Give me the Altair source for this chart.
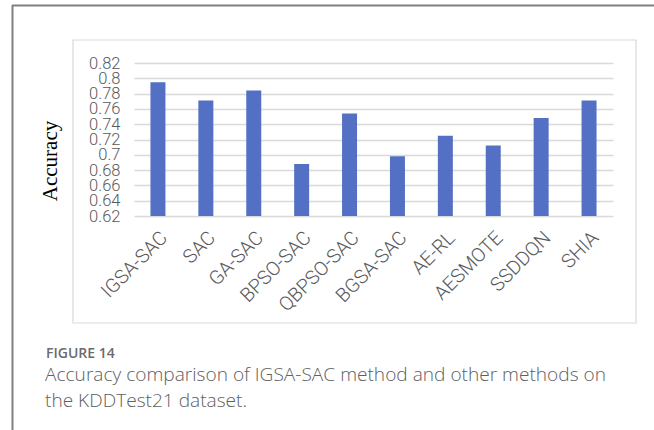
import altair as alt
import pandas as pd

# Accuracy on KDDTest21 for each method
methods = ["IGSA-SAC", "SAC", "GA-SAC", "BPSO-SAC", "QBPSO-SAC",
           "BGSA-SAC", "AE-RL", "AESMOTE", "SSDDQN", "SHIA"]
accuracy = [0.795, 0.771, 0.784, 0.688, 0.754, 0.698, 0.725, 0.712, 0.748, 0.771]
y_ticks = [0.62, 0.64, 0.66, 0.68, 0.70, 0.72, 0.74, 0.76, 0.78, 0.80, 0.82]

fig_label = "FIGURE 14"
caption_lines = [
    "Accuracy comparison of IGSA-SAC method and other methods on",
    "the KDDTest21 dataset.",
]

df = pd.DataFrame({"method": methods, "accuracy": accuracy})
one = pd.DataFrame({"k": [0]})

W, H = 479, 153
PAD_L, PAD_T = 134, 63

bars = alt.Chart(df).mark_bar(size=15, color="#5470C4", clip=True).encode(
    x=alt.X("method:N", sort=methods, title=None,
            axis=alt.Axis(labelAngle=-45, labelPadding=12, ticks=False,
                          domain=False, labelFont="Roboto", labelFontWeight=300,
                          labelFontSize=19.5, labelColor="#595959",
                          labelOverlap=False)),
    y=alt.Y("accuracy:Q", title=None,
            scale=alt.Scale(domain=[0.62, 0.82], nice=False, zero=False),
            axis=alt.Axis(values=y_ticks, format=".2~f", ticks=False, domain=False,
                          grid=True, gridColor="#d9d9d9", gridWidth=1.5,
                          labelFont="Roboto", labelFontWeight=300, labelFontSize=16.5,
                          labelColor="#595959", labelPadding=14,
                          labelOverlap=False, labelBound=False)),
)

# outer page frame (left and top edges)
frame_left = alt.Chart(one).mark_rule(color="#808080", strokeWidth=2).encode(
    x=alt.value(12.5 - PAD_L), y=alt.value(5 - PAD_T), y2=alt.value(430 - PAD_T))
frame_top = alt.Chart(one).mark_rule(color="#808080", strokeWidth=2).encode(
    x=alt.value(12 - PAD_L), x2=alt.value(654 - PAD_L), y=alt.value(5.5 - PAD_T))

# light box around the chart
box = alt.Chart(one).mark_rect(fill=None, stroke="#d9d9d9", strokeWidth=1.2).encode(
    x=alt.value(73 - PAD_L), x2=alt.value(636 - PAD_L),
    y=alt.value(40 - PAD_T), y2=alt.value(323 - PAD_T))

y_title = alt.Chart(one).mark_text(
    text="Accuracy", font="Liberation Serif", fontSize=21, color="#000000",
    angle=270, align="center", baseline="middle").encode(
    x=alt.value(51 - PAD_L), y=alt.value(161 - PAD_T))

fig_text = alt.Chart(one).mark_text(
    text=fig_label, font="Open Sans", fontWeight=600, fontSize=14, color="#6b6b6b",
    align="left", baseline="alphabetic").encode(
    x=alt.value(46 - PAD_L), y=alt.value(357.5 - PAD_T))

cap1 = alt.Chart(one).mark_text(
    text=caption_lines[0], font="Open Sans", fontWeight=300, fontSize=19.1,
    color="#606060", align="left", baseline="alphabetic").encode(
    x=alt.value(45 - PAD_L), y=alt.value(380.7 - PAD_T))
cap2 = alt.Chart(one).mark_text(
    text=caption_lines[1], font="Open Sans", fontWeight=300, fontSize=19.1,
    color="#606060", align="left", baseline="alphabetic").encode(
    x=alt.value(45 - PAD_L), y=alt.value(406.7 - PAD_T))

chart = alt.layer(
    box, frame_left, frame_top, bars, y_title, fig_text, cap1, cap2
).properties(
    width=W, height=H,
    autosize=alt.AutoSizeParams(type="none"),
    padding={"left": PAD_L, "top": PAD_T, "right": 654 - PAD_L - W,
             "bottom": 430 - PAD_T - H},
    background="white",
).configure_view(stroke=None)

chart.save("out.html", embed_options={"renderer": "svg", "actions": False})
